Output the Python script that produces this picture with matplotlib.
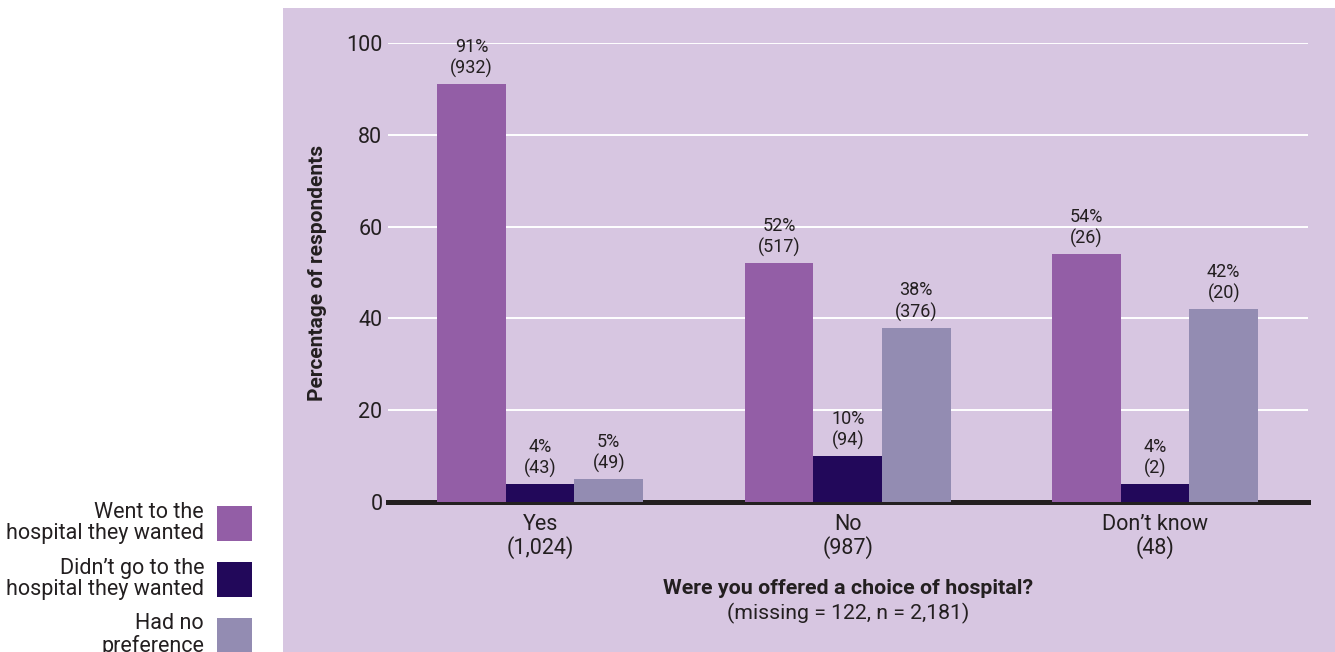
import numpy as np
import matplotlib.pyplot as plt
from matplotlib.patches import Rectangle

plt.rcParams['font.family'] = ['Roboto', 'DejaVu Sans']

# survey answers and results
categories = ["Yes", "No", "Don\u2019t know"]
category_counts = ["1,024", "987", "48"]
series_names = ["Went to the\nhospital they wanted",
                "Didn\u2019t go to the\nhospital they wanted",
                "Had no\npreference"]
went_pct = [91, 52, 54]
didnt_pct = [4, 10, 4]
no_pref_pct = [5, 38, 42]
went_n = [932, 517, 26]
didnt_n = [43, 94, 2]
no_pref_n = [49, 376, 20]

colors = ["#935EA6", "#22085A", "#938CB2"]
panel_color = "#D7C6E1"
text_color = "#231F20"

W, H = 1335, 652
fig = plt.figure(figsize=(W / 100, H / 100), dpi=100)
fig.patch.set_facecolor("white")

# lilac panel behind the chart
fig.patches.append(Rectangle((283 / W, 0), 1 - 283 / W, (H - 8) / H,
                             transform=fig.transFigure, facecolor=panel_color,
                             edgecolor="none", zorder=-5))

ax = fig.add_axes([388 / W, (H - 502) / H, (1308 - 388) / W, (502 - 43) / H])
ax.set_facecolor("none")
ax.set_zorder(1)

x = np.arange(len(categories))
width = 0.223
series = [went_pct, didnt_pct, no_pref_pct]
counts = [went_n, didnt_n, no_pref_n]
for i, (vals, ns) in enumerate(zip(series, counts)):
    pos = x + (i - 1) * width
    ax.bar(pos, vals, width, color=colors[i], zorder=3)
    for p, v, n in zip(pos, vals, ns):
        ax.text(p, v + 1.3, f"{v}%\n({n})", ha="center", va="bottom",
                fontsize=13, color=text_color, linespacing=1.2,
                clip_on=False, zorder=4)

ax.set_xlim(-0.495, 2.497)
ax.set_ylim(0, 100)
ax.set_yticks([0, 20, 40, 60, 80, 100])
ax.yaxis.grid(True, color="white", lw=1.4, zorder=1)
ax.axhline(0, color=text_color, lw=3.6, zorder=2, clip_on=False)
ax.set_xticks(x)
ax.set_xticklabels([f"{c}\n({n})" for c, n in zip(categories, category_counts)],
                   fontsize=15.5, color=text_color, linespacing=1.05)
ax.tick_params(axis="x", length=0, pad=9)
ax.tick_params(axis="y", length=0, pad=4, labelsize=15.5, labelcolor=text_color)
for s in ax.spines.values():
    s.set_visible(False)

ax.set_ylabel("Percentage of respondents", fontsize=15, fontweight="bold",
              color=text_color, labelpad=14)
fig.text(848 / W, 1 - 588 / H, "Were you offered a choice of hospital?",
         ha="center", va="center", fontsize=15.4, fontweight="bold",
         color=text_color)
fig.text(848 / W, 1 - 613 / H, "(missing = 122, n = 2,181)",
         ha="center", va="center", fontsize=15.3, color=text_color)

# legend on the left, labels right-aligned next to the swatches
swatch_tops = [506, 562, 618]
for name, col, top in zip(series_names, colors, swatch_tops):
    fig.patches.append(Rectangle((217 / W, 1 - (top + 35) / H), 35 / W, 35 / H,
                                 transform=fig.transFigure, facecolor=col,
                                 edgecolor="none"))
    fig.text(204 / W, 1 - (top + 17) / H, name, ha="right", va="center",
             fontsize=15.5, color=text_color, linespacing=1.05)

fig.savefig("out.png", dpi=100)
